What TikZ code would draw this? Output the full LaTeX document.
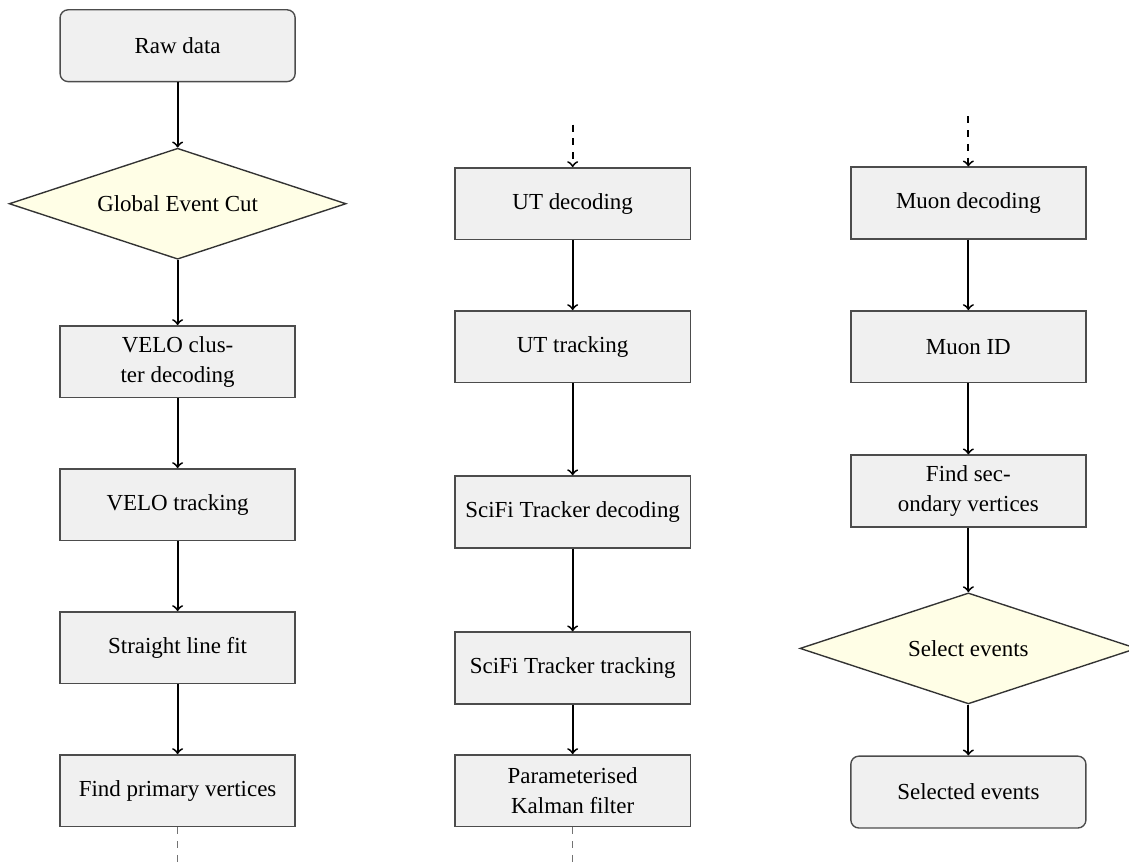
\documentclass[tikz,border=0pt]{standalone}
\usepackage{fontspec}
\setmainfont{Liberation Serif}
\usetikzlibrary{shapes.geometric}

\tikzset{
  stage/.style={rectangle,draw=black!70,semithick,fill=black!6,
    minimum width=3.6cm,minimum height=1.1cm,align=center,
    font=\fontsize{10}{13}\selectfont},
  terminal/.style={stage,rounded corners=3.5pt},
  decision/.style={diamond,aspect=3,draw=black!80,semithick,fill=yellow!10,
    minimum width=5.16cm,minimum height=1.7cm,inner sep=0pt},
  flow/.style={->,thick},
  feed/.style={->,thick,dashed},
  tail/.style={semithick,dashed,black!55}
}

\begin{document}
\begin{tikzpicture}
\useasboundingbox (0,0) rectangle (17.29,-13.25);

% first column
\node[terminal] (raw) at (2.72,-0.70) {Raw data};
\node[decision] (gec) at (2.72,-3.12) {Global Event Cut};
\node[stage] (velodec) at (2.72,-5.54) {VELO clus-\\ter decoding};
\node[stage] (velotrk) at (2.72,-7.73) {VELO tracking};
\node[stage] (slfit) at (2.72,-9.92) {Straight line fit};
\node[stage] (pvfind) at (2.72,-12.11) {Find primary vertices};
\coordinate (pvout) at (2.72,-13.25);

\draw[flow] (raw)--(gec);
\draw[flow] (gec)--(velodec);
\draw[flow] (velodec)--(velotrk);
\draw[flow] (velotrk)--(slfit);
\draw[flow] (slfit)--(pvfind);
\draw[tail] (pvfind)--(pvout);

% second column
\coordinate (utin) at (8.77,-1.91);
\node[stage] (utdec) at (8.77,-3.12) {UT decoding};
\node[stage] (uttrk) at (8.77,-5.31) {UT tracking};
\node[stage] (scidec) at (8.77,-7.84) {SciFi Tracker decoding};
\node[stage] (scitrk) at (8.77,-10.23) {SciFi Tracker tracking};
\node[stage] (kalman) at (8.77,-12.11) {Parameterised\\Kalman filter};
\coordinate (kalout) at (8.77,-13.25);

\draw[feed] (utin)--(utdec);
\draw[flow] (utdec)--(uttrk);
\draw[flow] (uttrk)--(scidec);
\draw[flow] (scidec)--(scitrk);
\draw[flow] (scitrk)--(kalman);
\draw[tail] (kalman)--(kalout);

% third column
\coordinate (muin) at (14.83,-1.78);
\node[stage] (mudec) at (14.83,-3.11) {Muon decoding};
\node[stage] (muid) at (14.83,-5.31) {Muon ID};
\node[stage] (svfind) at (14.83,-7.52) {Find sec-\\ondary vertices};
\node[decision] (select) at (14.83,-9.93) {Select events};
\node[terminal] (selected) at (14.83,-12.13) {Selected events};

\draw[feed] (muin)--(mudec);
\draw[flow] (mudec)--(muid);
\draw[flow] (muid)--(svfind);
\draw[flow] (svfind)--(select);
\draw[flow] (select)--(selected);
\end{tikzpicture}
\end{document}
